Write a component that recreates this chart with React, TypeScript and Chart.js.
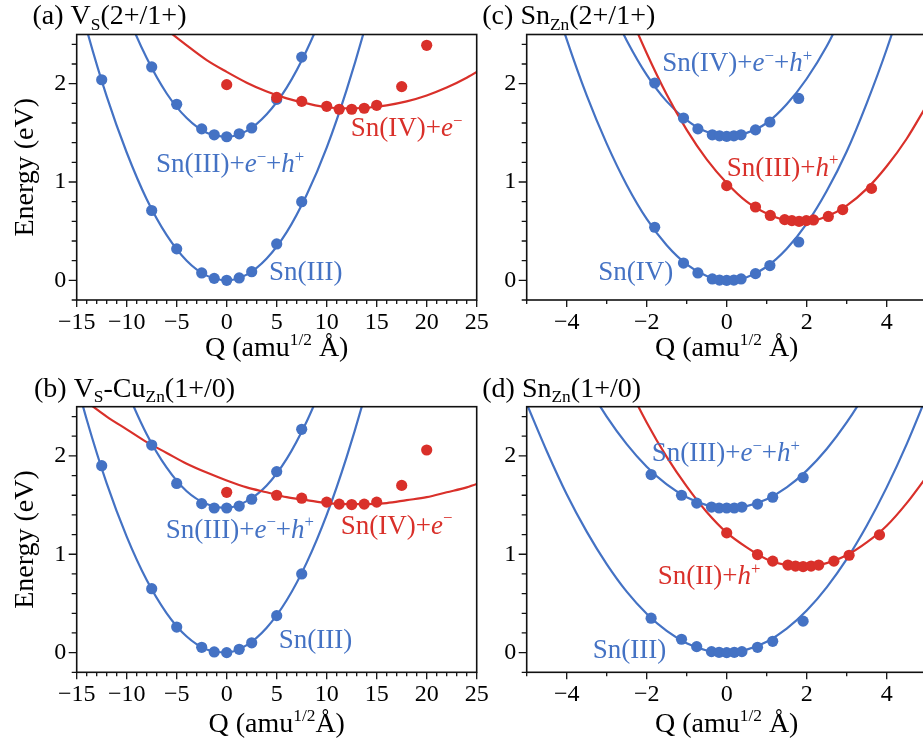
import React, { useEffect, useRef } from 'react';
import { Chart, registerables } from 'chart.js';
Chart.register(...registerables);

const BLUE = '#4472c4';
const RED = '#d9302a';
const FONT = '"Liberation Serif", "Times New Roman", serif';

// ---------- Panel (a) V_S(2+/1+) ----------
const aLowQ = [-12.5, -7.5, -5, -2.5, -1.25, 0, 1.25, 2.5, 5, 7.5];
const aLowE = [2.04, 0.71, 0.32, 0.075, 0.02, 0.0, 0.024, 0.088, 0.37, 0.8];
const aUpQ = [-7.5, -5, -2.5, -1.25, 0, 1.25, 2.5, 5, 7.5];
const aUpE = [2.17, 1.79, 1.54, 1.48, 1.46, 1.49, 1.55, 1.84, 2.27];
const aRedQ = [0, 5, 7.5, 10, 11.25, 12.5, 13.75, 15, 17.5, 20];
const aRedE = [1.99, 1.86, 1.82, 1.77, 1.74, 1.74, 1.75, 1.78, 1.97, 2.39];
const aLowFitQ = [-16, -14, -12, -10, -8, -6, -4, -2, 0, 2, 4, 6, 8, 10, 12, 14, 16];
const aLowFitE = [3.34, 2.55, 1.87, 1.3, 0.825, 0.46, 0.2, 0.048, 0, 0.058, 0.222, 0.49, 0.87, 1.35, 1.94, 2.63, 3.43];
const aUpFitQ = [-12, -10, -8, -6, -4, -2, 0, 2, 4, 6, 8, 10, 12];
const aUpFitE = [3.28, 2.72, 2.26, 1.9, 1.65, 1.5, 1.46, 1.52, 1.69, 1.96, 2.34, 2.82, 3.41];
const aRedFitQ = [-8, -6, -4, -2, 0, 2, 4, 6, 8, 10, 12, 14, 16, 18, 20, 22, 24, 26];
const aRedFitE = [2.73, 2.55, 2.39, 2.24, 2.12, 2.01, 1.92, 1.85, 1.8, 1.76, 1.75, 1.755, 1.78, 1.82, 1.88, 1.96, 2.06, 2.18];

// ---------- Panel (b) V_S-Cu_Zn(1+/0) ----------
const bLowQ = [-12.5, -7.5, -5, -2.5, -1.25, 0, 1.25, 2.5, 5, 7.5];
const bLowE = [1.9, 0.65, 0.26, 0.054, 0.007, 0.0, 0.034, 0.1, 0.376, 0.8];
const bUpQ = [-7.5, -5, -2.5, -1.25, 0, 1.25, 2.5, 5, 7.5];
const bUpE = [2.11, 1.72, 1.515, 1.47, 1.47, 1.49, 1.56, 1.84, 2.27];
const bRedQ = [0, 5, 7.5, 10, 11.25, 12.5, 13.75, 15, 17.5, 20];
const bRedE = [1.63, 1.6, 1.57, 1.53, 1.51, 1.505, 1.51, 1.53, 1.7, 2.06];
const bLowFitQ = [-16, -14, -12, -10, -8, -6, -4, -2, 0, 2, 4, 6, 8, 10, 12, 14, 16];
const bLowFitE = [3.12, 2.37, 1.72, 1.18, 0.738, 0.4, 0.164, 0.032, 0.002, 0.076, 0.253, 0.532, 0.915, 1.4, 1.99, 2.68, 3.48];
const bUpFitQ = [-12, -10, -8, -6, -4, -2, 0, 2, 4, 6, 8, 10];
const bUpFitE = [3.21, 2.67, 2.22, 1.88, 1.64, 1.51, 1.47, 1.54, 1.7, 1.97, 2.35, 2.82];
const bRedFitQ = [-16, -14, -12, -10, -8, -6, -4, -2, 0, 2, 4, 6, 8, 10, 12, 14, 16, 18, 20, 22, 24, 26];
const bRedFitE = [2.71, 2.55, 2.4, 2.27, 2.14, 2.03, 1.92, 1.83, 1.75, 1.68, 1.63, 1.58, 1.55, 1.52, 1.51, 1.51, 1.52, 1.55, 1.58, 1.63, 1.68, 1.75];

// ---------- Panel (c) Sn_Zn(2+/1+) ----------
const cLowQ = [-1.8, -1.08, -0.72, -0.36, -0.18, 0, 0.18, 0.36, 0.72, 1.08, 1.8];
const cLowE = [0.54, 0.176, 0.075, 0.014, 0.003, 0.0, 0.003, 0.014, 0.068, 0.15, 0.39];
const cUpQ = [-1.8, -1.08, -0.72, -0.36, -0.18, 0, 0.18, 0.36, 0.72, 1.08, 1.8];
const cUpE = [2.007, 1.65, 1.54, 1.48, 1.47, 1.465, 1.47, 1.48, 1.53, 1.61, 1.85];
const cRedQ = [0, 0.72, 1.09, 1.45, 1.63, 1.81, 1.99, 2.17, 2.54, 2.9, 3.62];
const cRedE = [0.963, 0.746, 0.66, 0.617, 0.607, 0.6, 0.607, 0.614, 0.65, 0.72, 0.935];
const cLowFitQ = [-5, -4.5, -4, -3.5, -3, -2.5, -2, -1.5, -1, -0.5, 0, 0.5, 1, 1.5, 2, 2.5, 3, 3.5, 4, 4.5, 5];
const cLowFitE = [3.81, 3.09, 2.45, 1.88, 1.39, 0.97, 0.624, 0.356, 0.162, 0.044, 0.0, 0.032, 0.138, 0.32, 0.576, 0.908, 1.31, 1.8, 2.35, 2.98, 3.69];
const cUpFitQ = [-3, -2.5, -2, -1.5, -1, -0.5, 0, 0.5, 1, 1.5, 2, 2.5, 3];
const cUpFitE = [2.86, 2.44, 2.09, 1.82, 1.63, 1.51, 1.465, 1.5, 1.6, 1.79, 2.05, 2.38, 2.79];
const cRedFitQ = [-3, -2.5, -2, -1.5, -1, -0.5, 0, 0.5, 1, 1.5, 2, 2.5, 3, 3.5, 4, 4.5, 5];
const cRedFitE = [3.32, 2.78, 2.31, 1.89, 1.53, 1.23, 0.99, 0.8, 0.68, 0.61, 0.6, 0.65, 0.76, 0.93, 1.16, 1.44, 1.78];

// ---------- Panel (d) Sn_Zn(1+/0) ----------
const dLowQ = [-1.89, -1.13, -0.75, -0.38, -0.19, 0, 0.19, 0.38, 0.77, 1.15, 1.91];
const dLowE = [0.35, 0.136, 0.061, 0.01, 0.003, 0.0, 0.003, 0.01, 0.054, 0.115, 0.32];
const dUpQ = [-1.89, -1.13, -0.75, -0.38, -0.19, 0, 0.19, 0.38, 0.77, 1.15, 1.91];
const dUpE = [1.81, 1.6, 1.52, 1.48, 1.47, 1.47, 1.47, 1.48, 1.51, 1.58, 1.78];
const dRedQ = [0, 0.77, 1.15, 1.53, 1.72, 1.91, 2.11, 2.3, 2.68, 3.06, 3.82];
const dRedE = [1.217, 0.997, 0.93, 0.89, 0.88, 0.875, 0.88, 0.89, 0.93, 0.99, 1.197];
const dLowFitQ = [-5, -4.5, -4, -3.5, -3, -2.5, -2, -1.5, -1, -0.5, 0, 0.5, 1, 1.5, 2, 2.5, 3, 3.5, 4, 4.5, 5];
const dLowFitE = [2.53, 2.05, 1.61, 1.23, 0.9, 0.62, 0.395, 0.22, 0.095, 0.022, 0.0, 0.03, 0.111, 0.244, 0.428, 0.664, 0.95, 1.29, 1.68, 2.12, 2.61];
const dUpFitQ = [-4, -3.5, -3, -2.5, -2, -1.5, -1, -0.5, 0, 0.5, 1, 1.5, 2, 2.5, 3, 3.5, 4];
const dUpFitE = [3.11, 2.73, 2.4, 2.12, 1.89, 1.71, 1.58, 1.5, 1.47, 1.49, 1.56, 1.68, 1.85, 2.07, 2.34, 2.66, 3.03];
const dRedFitQ = [-3, -2.5, -2, -1.5, -1, -0.5, 0, 0.5, 1, 1.5, 2, 2.5, 3, 3.5, 4, 4.5, 5];
const dRedFitE = [3.18, 2.74, 2.34, 1.99, 1.69, 1.43, 1.22, 1.07, 0.95, 0.89, 0.875, 0.91, 0.99, 1.12, 1.29, 1.52, 1.79];

// ---------- axes ----------
const abXTicks = [-15, -10, -5, 0, 5, 10, 15, 20, 25];
const cdXTicks = [-4, -2, 0, 2, 4];
const yTicks = [0, 1, 2];

type Seg = { t: string; it?: boolean; sup?: boolean; sub?: boolean };
type Label = { segs: Seg[]; x: number; y: number; color: string };

const eMinus: Seg[] = [{ t: 'e', it: true }, { t: '\u2212', sup: true }];
const hPlus: Seg[] = [{ t: 'h', it: true }, { t: '+', sup: true }];

function drawRich(ctx: CanvasRenderingContext2D, segs: Seg[], x: number, y: number, size: number, color: string, align: 'left' | 'center' = 'left') {
  ctx.save();
  ctx.fillStyle = color;
  ctx.textBaseline = 'alphabetic';
  ctx.textAlign = 'left';
  const parts = segs.map((s) => {
    const sz = s.sup || s.sub ? size * 0.62 : size;
    const font = `${s.it ? 'italic ' : ''}${sz}px ${FONT}`;
    ctx.font = font;
    return { s, font, w: ctx.measureText(s.t).width, dy: s.sup ? -size * 0.38 : s.sub ? size * 0.2 : 0 };
  });
  const total = parts.reduce((a, p) => a + p.w, 0);
  let cx = align === 'center' ? x - total / 2 : x;
  for (const p of parts) {
    ctx.font = p.font;
    ctx.fillText(p.s.t, cx, y + p.dy);
    cx += p.w;
  }
  ctx.restore();
}

interface Spec {
  canvas: { left: number; top: number; w: number; h: number };
  area: { l: number; t: number; r: number; b: number };
  xMin: number;
  xMax: number;
  xTicks: number[];
  xMinorStep: number;
  series: { q: number[]; e: number[]; fq: number[]; fe: number[]; color: string }[];
  labels: Label[];
  title: { segs: Seg[]; x: number; y: number };
  xTitle: { segs: Seg[]; y: number };
  yTitle?: { x: number };
}

const xTitleSpaced: Seg[] = [{ t: 'Q (amu' }, { t: '1/2', sup: true }, { t: ' \u00c5)' }];
const xTitleTight: Seg[] = [{ t: 'Q (amu' }, { t: '1/2', sup: true }, { t: '\u00c5)' }];

const specs: Spec[] = [
  {
    canvas: { left: 0, top: 0, w: 500, h: 370 },
    area: { l: 76.7, t: 34.5, r: 476.7, b: 300 },
    xMin: -15, xMax: 25, xTicks: abXTicks, xMinorStep: 1,
    series: [
      { q: aLowQ, e: aLowE, fq: aLowFitQ, fe: aLowFitE, color: BLUE },
      { q: aUpQ, e: aUpE, fq: aUpFitQ, fe: aUpFitE, color: BLUE },
      { q: aRedQ, e: aRedE, fq: aRedFitQ, fe: aRedFitE, color: RED },
    ],
    labels: [
      { segs: [{ t: 'Sn(IV)+' }, ...eMinus], x: 12.4, y: 1.47, color: RED },
      { segs: [{ t: 'Sn(III)+' }, ...eMinus, { t: '+' }, ...hPlus], x: -7.07, y: 1.1, color: BLUE },
      { segs: [{ t: 'Sn(III)' }], x: 4.23, y: 0.005, color: BLUE },
    ],
    title: { segs: [{ t: '(a) V' }, { t: 'S', sub: true }, { t: '(2+/1+)' }], x: 32.5, y: 24 },
    xTitle: { segs: xTitleSpaced, y: 356 },
    yTitle: { x: 33 },
  },
  {
    canvas: { left: 480, top: 0, w: 470, h: 370 },
    area: { l: 526.7, t: 34.5, r: 926.7, b: 300 },
    xMin: -5, xMax: 5, xTicks: cdXTicks, xMinorStep: 1,
    series: [
      { q: cLowQ, e: cLowE, fq: cLowFitQ, fe: cLowFitE, color: BLUE },
      { q: cUpQ, e: cUpE, fq: cUpFitQ, fe: cUpFitE, color: BLUE },
      { q: cRedQ, e: cRedE, fq: cRedFitQ, fe: cRedFitE, color: RED },
    ],
    labels: [
      { segs: [{ t: 'Sn(IV)+' }, ...eMinus, { t: '+' }, ...hPlus], x: -1.61, y: 2.13, color: BLUE },
      { segs: [{ t: 'Sn(III)+' }, ...hPlus], x: 0.0, y: 1.065, color: RED },
      { segs: [{ t: 'Sn(IV)' }], x: -3.21, y: 0.0, color: BLUE },
    ],
    title: { segs: [{ t: '(c) Sn' }, { t: 'Zn', sub: true }, { t: '(2+/1+)' }], x: 482.3, y: 24 },
    xTitle: { segs: xTitleSpaced, y: 356 },
  },
  {
    canvas: { left: 0, top: 370, w: 500, h: 377 },
    area: { l: 76.7, t: 406.7, r: 476.7, b: 672.3 },
    xMin: -15, xMax: 25, xTicks: abXTicks, xMinorStep: 1,
    series: [
      { q: bLowQ, e: bLowE, fq: bLowFitQ, fe: bLowFitE, color: BLUE },
      { q: bUpQ, e: bUpE, fq: bUpFitQ, fe: bUpFitE, color: BLUE },
      { q: bRedQ, e: bRedE, fq: bRedFitQ, fe: bRedFitE, color: RED },
    ],
    labels: [
      { segs: [{ t: 'Sn(III)+' }, ...eMinus, { t: '+' }, ...hPlus], x: -6.1, y: 1.17, color: BLUE },
      { segs: [{ t: 'Sn(IV)+' }, ...eMinus], x: 11.4, y: 1.21, color: RED },
      { segs: [{ t: 'Sn(III)' }], x: 5.2, y: 0.05, color: BLUE },
    ],
    title: { segs: [{ t: '(b) V' }, { t: 'S', sub: true }, { t: '-Cu' }, { t: 'Zn', sub: true }, { t: '(1+/0)' }], x: 34, y: 396.7 },
    xTitle: { segs: xTitleTight, y: 732 },
    yTitle: { x: 33 },
  },
  {
    canvas: { left: 480, top: 370, w: 470, h: 377 },
    area: { l: 526.7, t: 406.7, r: 926.7, b: 672.3 },
    xMin: -5, xMax: 5, xTicks: cdXTicks, xMinorStep: 1,
    series: [
      { q: dLowQ, e: dLowE, fq: dLowFitQ, fe: dLowFitE, color: BLUE },
      { q: dUpQ, e: dUpE, fq: dUpFitQ, fe: dUpFitE, color: BLUE },
      { q: dRedQ, e: dRedE, fq: dRedFitQ, fe: dRedFitE, color: RED },
    ],
    labels: [
      { segs: [{ t: 'Sn(III)+' }, ...eMinus, { t: '+' }, ...hPlus], x: -1.875, y: 1.95, color: BLUE },
      { segs: [{ t: 'Sn(II)+' }, ...hPlus], x: -1.725, y: 0.7, color: RED },
      { segs: [{ t: 'Sn(III)' }], x: -3.35, y: -0.05, color: BLUE },
    ],
    title: { segs: [{ t: '(d) Sn' }, { t: 'Zn', sub: true }, { t: '(1+/0)' }], x: 482.3, y: 396.7 },
    xTitle: { segs: xTitleSpaced, y: 732 },
  },
];

const Y_MIN = -0.2;
const Y_MAX = 2.5;

function fmt(v: number) {
  return v < 0 ? '\u2212' + Math.abs(v) : String(v);
}

function Panel({ spec }: { spec: Spec }) {
  const ref = useRef<HTMLCanvasElement>(null);
  useEffect(() => {
    const cv = ref.current!;
    const { canvas: c, area } = spec;
    const datasets: any[] = [];
    spec.series.forEach((s) => {
      datasets.push({
        data: s.fq.map((x, i) => ({ x, y: s.fe[i] })),
        borderColor: s.color,
        borderWidth: 2.2,
        pointRadius: 0,
        cubicInterpolationMode: 'monotone',
        order: s.color === RED ? 2 : 3,
      });
    });
    spec.series.forEach((s) => {
      datasets.push({
        data: s.q.map((x, i) => ({ x, y: s.e[i] })),
        showLine: false,
        pointRadius: 5.6,
        pointHoverRadius: 5.6,
        pointBackgroundColor: s.color,
        pointBorderWidth: 0,
        backgroundColor: s.color,
        borderColor: s.color,
        order: s.color === RED ? 0 : 1,
      });
    });

    const overlay = {
      id: 'overlay',
      afterDatasetsDraw(chart: any) {
        const ctx: CanvasRenderingContext2D = chart.ctx;
        const xs = chart.scales.x;
        const ys = chart.scales.y;
        const ca = chart.chartArea;
        ctx.save();
        // frame
        ctx.strokeStyle = '#111';
        ctx.lineWidth = 1.6;
        ctx.strokeRect(ca.left, ca.top, ca.right - ca.left, ca.bottom - ca.top);
        // x ticks
        ctx.lineWidth = 1.3;
        ctx.beginPath();
        for (let v = spec.xMin; v <= spec.xMax + 1e-9; v += spec.xMinorStep) {
          const px = xs.getPixelForValue(v);
          const major = spec.xTicks.some((t) => Math.abs(t - v) < 1e-6);
          ctx.moveTo(px, ca.bottom);
          ctx.lineTo(px, ca.bottom + (major ? 7 : 4));
        }
        // y ticks
        for (let k = 0; k <= 13; k++) {
          const v = Y_MIN + k * 0.2;
          const py = ys.getPixelForValue(v);
          const major = yTicks.some((t) => Math.abs(t - v) < 1e-6);
          ctx.moveTo(ca.left, py);
          ctx.lineTo(ca.left - (major ? 8 : 5), py);
        }
        ctx.stroke();
        ctx.restore();

        // curve labels
        spec.labels.forEach((l) => {
          drawRich(ctx, l.segs, xs.getPixelForValue(l.x), ys.getPixelForValue(l.y), 27, l.color);
        });
        // title
        drawRich(ctx, spec.title.segs, spec.title.x - c.left, spec.title.y - c.top, 28, '#000');
        // x title
        drawRich(ctx, spec.xTitle.segs, (area.l + area.r) / 2 - c.left, spec.xTitle.y - c.top, 28, '#000', 'center');
        // y title
        if (spec.yTitle) {
          ctx.save();
          ctx.translate(spec.yTitle.x - c.left, (area.t + area.b) / 2 - c.top);
          ctx.rotate(-Math.PI / 2);
          ctx.font = `28px ${FONT}`;
          ctx.fillStyle = '#000';
          ctx.textAlign = 'center';
          ctx.textBaseline = 'alphabetic';
          ctx.fillText('Energy (eV)', 0, 0);
          ctx.restore();
        }
      },
    };

    const chart = new Chart(cv, {
      type: 'line',
      data: { datasets },
      options: {
        animation: false,
        responsive: false,
        devicePixelRatio: 1,
        events: [],
        layout: {
          padding: {
            left: 0,
            top: area.t - c.top,
            right: c.left + c.w - area.r,
            bottom: 0,
          },
        },
        plugins: { legend: { display: false }, tooltip: { enabled: false } },
        scales: {
          x: {
            type: 'linear',
            min: spec.xMin,
            max: spec.xMax,
            grid: { display: false, drawTicks: false },
            border: { display: false },
            ticks: {
              color: '#000',
              font: { family: FONT, size: 24 },
              padding: 8,
              maxRotation: 0,
              autoSkip: false,
              callback: (v: any) => fmt(Number(v)),
            },
            afterBuildTicks: (s: any) => {
              s.ticks = spec.xTicks.map((v) => ({ value: v }));
            },
            afterFit: (s: any) => {
              s.height = c.top + c.h - area.b;
            },
          },
          y: {
            type: 'linear',
            min: Y_MIN,
            max: Y_MAX,
            grid: { display: false, drawTicks: false },
            border: { display: false },
            ticks: {
              color: '#000',
              font: { family: FONT, size: 24 },
              padding: 10.5,
              autoSkip: false,
              callback: (v: any) => fmt(Number(v)),
            },
            afterBuildTicks: (s: any) => {
              s.ticks = yTicks.map((v) => ({ value: v }));
            },
            afterFit: (s: any) => {
              s.width = area.l - c.left;
            },
          },
        },
      } as any,
      plugins: [overlay],
    });
    return () => chart.destroy();
  }, [spec]);
  return (
    <canvas
      ref={ref}
      width={spec.canvas.w}
      height={spec.canvas.h}
      style={{ position: 'absolute', left: spec.canvas.left, top: spec.canvas.top, width: spec.canvas.w, height: spec.canvas.h }}
    />
  );
}

export default function App() {
  return (
    <div style={{ position: 'absolute', left: 0, top: 0, width: 923, height: 747, overflow: 'hidden', background: '#fff' }}>
      {specs.map((s, i) => (
        <Panel key={i} spec={s} />
      ))}
    </div>
  );
}
